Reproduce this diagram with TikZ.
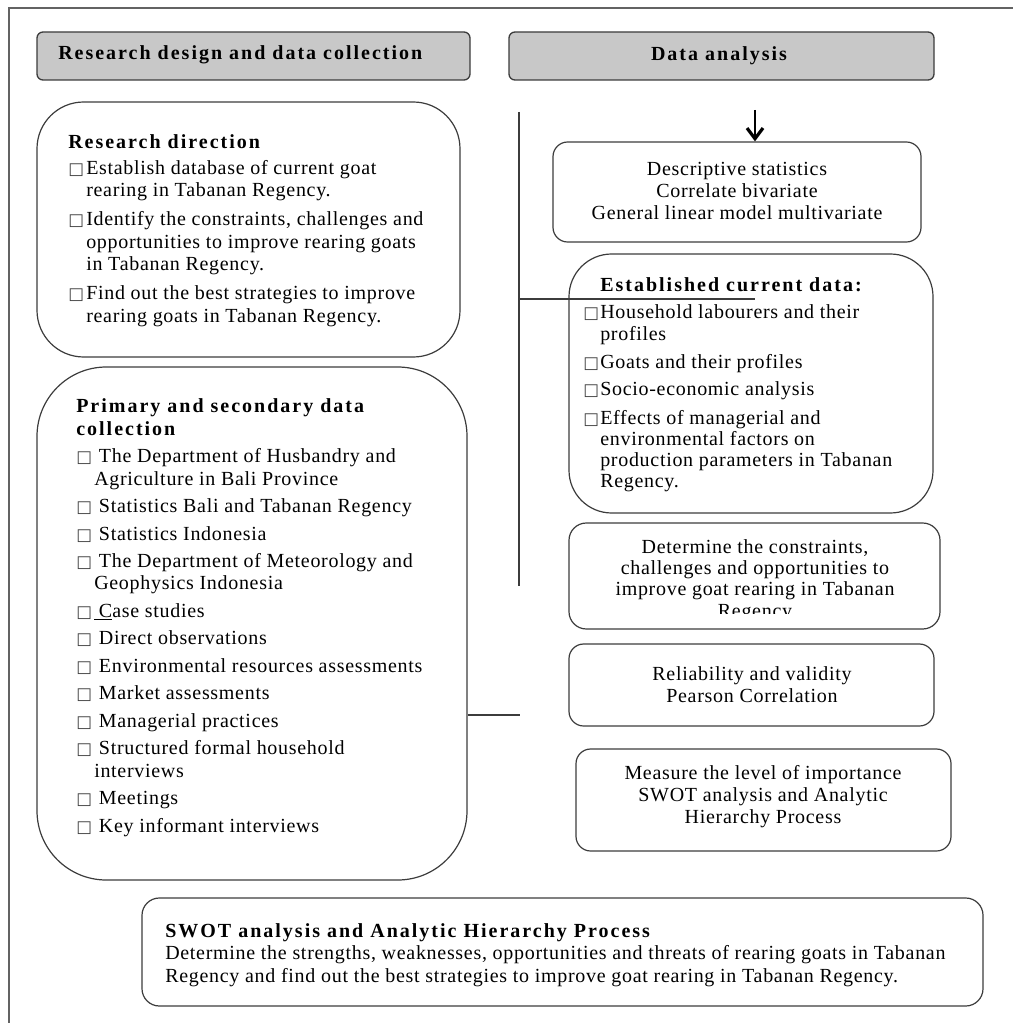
\documentclass[tikz,border=0pt]{standalone}
\usepackage{fontspec}
\setmainfont{Liberation Serif}[LetterSpace=3.5]
\newfontfamily\hdfont{Liberation Serif}[LetterSpace=10]
\newfontfamily\sqfont{DejaVu Sans}
\usetikzlibrary{arrows.meta,fit}

\definecolor{linegray}{RGB}{60,60,60}
\definecolor{hdgray}{RGB}{200,200,200}

% check box in front of the list items, and the indent of the lines after it
\newcommand{\bx}[1][13.5pt]{\makebox[#1][l]{\color{black!75}\sqfont\fontsize{12.5}{12.5}\selectfont □}}
\newcommand{\hx}[1][13.5pt]{\hspace*{#1}}

\tikzset{
  hdbox/.style={draw=linegray, line width=1pt, fill=hdgray, rounded corners=4.5pt, inner sep=0pt},
  rbox/.style={draw=linegray, line width=0.9pt, inner sep=0pt},
  txt/.style={inner sep=0pt, font=\fontsize{15}{16.8}\selectfont, text=black, align=left},
  ctxt/.style={txt, align=center},
  hdtxt/.style={inner sep=0pt, font=\hdfont\fontsize{15}{16.8}\selectfont\bfseries, text=black},
  link/.style={draw=linegray, line width=1.1pt},
  arw/.style={draw=black, line width=1pt, -{Straight Barb[length=8pt,width=12pt,line width=2.4pt]}},
  frame/.style={draw=linegray!80, line width=1.4pt}
}

\begin{document}
\begin{tikzpicture}[x=0.75pt,y=0.75pt,yscale=-1,xscale=1]
    \useasboundingbox (0,0) rectangle (1013,1023);
    %Frame lines
    \draw[frame] (9,1023) -- (9,8) -- (1013,8);
    %Rounded Rect (headers)
    \node[hdbox, fit={(37,32) (470,80)}] (hdA) {};
    \node[hdbox, fit={(509,32) (934,80)}] (hdB) {};
    % Text Node
    \draw (58,60) node [hdtxt, anchor=base west] (hdAt) {Research design and data collection};
    % Text Node
    \draw (719,61) node [hdtxt, anchor=base] (hdBt) {Data analysis};
    %Rounded Rect (left column)
    \node[rbox, rounded corners=35pt, fit={(37,102) (460,357)}] (rd) {};
    \node[rbox, rounded corners=52pt, fit={(37,367) (467,880)}] (pd) {};
    %Rounded Rect (right column)
    \node[rbox, rounded corners=11pt, fit={(553,142) (921,242)}] (ds) {};
    \node[rbox, rounded corners=32pt, fit={(569,254) (933,513)}] (ec) {};
    \node[rbox, rounded corners=13pt, fit={(569,523) (940,629)}] (dt) {};
    \node[rbox, rounded corners=11pt, fit={(569,644) (934,726)}] (rv) {};
    \node[rbox, rounded corners=11pt, fit={(576,749) (951,851)}] (ms) {};
    %Rounded Rect (bottom)
    \node[rbox, rounded corners=13pt, fit={(142,898) (983,1006)}] (sw) {};
    % Text Node (placed by the baseline of its last line)
    \draw (68,322) node [txt, anchor=base west] (rdt) {{\hdfont\bfseries Research direction}\\[2.5pt]
      \bx Establish database of current goat\\
      \hx rearing in Tabanan Regency.\\[5pt]
      \bx Identify the constraints, challenges and\\
      \hx opportunities to improve rearing goats\\
      \hx in Tabanan Regency.\\[5pt]
      \bx Find out the best strategies to improve\\
      \hx rearing goats in Tabanan Regency.};
    % Text Node
    \draw (76,832) node [txt, anchor=base west] (pdt) {{\hdfont\bfseries Primary and secondary data}\\
      {\hdfont\bfseries collection}\\[3.8pt]
      \bx[17pt]The Department of Husbandry and\\
      \hx Agriculture in Bali Province\\[3.8pt]
      \bx[17pt]Statistics Bali and Tabanan Regency\\[3.8pt]
      \bx[17pt]Statistics Indonesia\\[3.8pt]
      \bx[17pt]The Department of Meteorology and\\
      \hx Geophysics Indonesia\\[3.8pt]
      \bx[13.5pt]\underline{\hspace{3.5pt}C}ase studies\\[3.8pt]
      \bx[17pt]Direct observations\\[3.8pt]
      \bx[17pt]Environmental resources assessments\\[3.8pt]
      \bx[17pt]Market assessments\\[3.8pt]
      \bx[17pt]Managerial practices\\[3.8pt]
      \bx[17pt]Structured formal household\\
      \hx interviews\\[3.8pt]
      \bx[17pt]Meetings\\[3.8pt]
      \bx[17pt]Key informant interviews};
    % Text Node
    \draw (737,220) node [ctxt, anchor=base] (dst) {Descriptive statistics\\Correlate bivariate\\General linear model multivariate};
    % Text Node
    \draw (583,487) node [txt, anchor=base west, font=\fontsize{15}{15.75}\selectfont] (ect) {\hx[12.75pt]{\hdfont\bfseries Established current data:}\\[4.5pt]
      \bx[12.75pt]Household labourers and their\\[0.75pt]
      \hx[12.75pt]profiles\\[5.25pt]
      \bx[12.75pt]Goats and their profiles\\[4.5pt]
      \bx[12.75pt]Socio-economic analysis\\[5.5pt]
      \bx[12.75pt]Effects of managerial and\\
      \hx[12.75pt]environmental factors on\\
      \hx[12.75pt]production parameters in Tabanan\\
      \hx[12.75pt]Regency.};
    % Text Node (last line cut by the box)
    \begin{scope}
      \clip (569,523) rectangle (940,613);
      \draw (755,617) node [ctxt, anchor=base, font=\fontsize{15}{15.8}\selectfont] (dtt) {Determine the constraints,\\challenges and opportunities to\\improve goat rearing in Tabanan\\Regency};
    \end{scope}
    % Text Node
    \draw (752,702) node [ctxt, anchor=base, font=\fontsize{15}{15.8}\selectfont] (rvt) {Reliability and validity\\Pearson Correlation};
    % Text Node
    \draw (763,823) node [ctxt, anchor=base, font=\fontsize{15}{16.2}\selectfont] (mst) {Measure the level of importance\\SWOT analysis and Analytic\\Hierarchy Process};
    % Text Node
    \draw (165,982) node [txt, anchor=base west] (swt) {{\hdfont\bfseries SWOT analysis and Analytic Hierarchy Process}\\
      Determine the strengths, weaknesses, opportunities and threats of rearing goats in Tabanan\\
      Regency and find out the best strategies to improve goat rearing in Tabanan Regency.};
    %Straight Lines
    \coordinate (spT) at (519,112);
    \coordinate (spB) at (519,586);
    \coordinate (ecL) at (755,299);
    \coordinate (stub) at (520,715);
    \coordinate (arT) at (755,110);
    \draw[link] (spT) -- (spB);
    \draw[link] (spT |- ecL) -- (ecL);
    \draw[link] (pd.east |- stub) -- (stub);
    \draw[arw] (arT) -- (arT |- ds.north);
\end{tikzpicture}
\end{document}
